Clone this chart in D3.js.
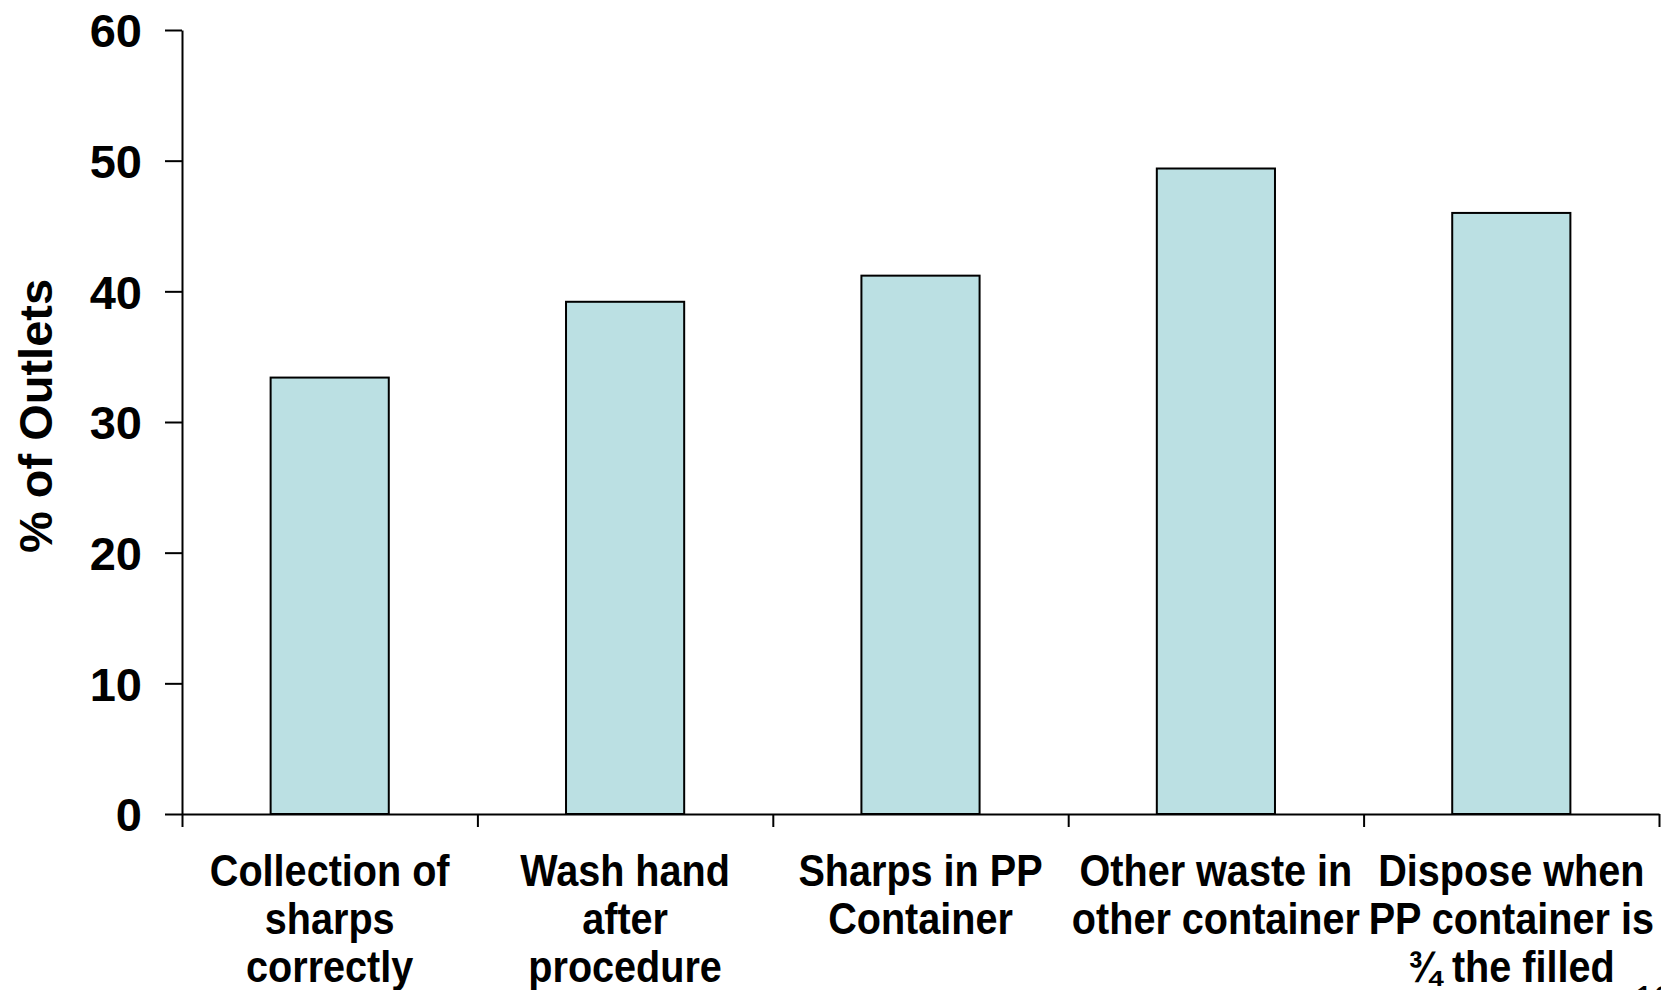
<!DOCTYPE html>
<html>
<head>
<meta charset="utf-8">
<script src="https://cdn.jsdelivr.net/npm/d3@7"></script>
<style>
  body { margin: 0; background: #fff; overflow: hidden; }
  text { font-family: "Liberation Sans", Arial, sans-serif; font-weight: bold; fill: #000; }
  .axis path, .axis line { stroke: #000; stroke-width: 2; }
  .bar { fill: #bbe0e3; stroke: #000; stroke-width: 2; }
</style>
</head>
<body>
<div class="container"></div>
<script>
var categories = [
  ["Collection of", "sharps", "correctly"],
  ["Wash hand", "after", "procedure"],
  ["Sharps in PP", "Container"],
  ["Other waste in", "other container"],
  ["Dispose when", "PP container is", "\u00be the filled"]
];
var values = [33.4, 39.2, 41.2, 49.4, 46.0];
var yTicks = [0, 10, 20, 30, 40, 50, 60];
var yTitle = "% of Outlets";
var pageNumber = "13";

const WIDTH = 1661;
const HEIGHT = 990;
const LEFT = 182, RIGHT = 1659, TOP = 30, BOTTOM = 814;

var translate = function(x, y){
  return "translate(" + x + "," + y + ")";
};

var svg = d3.select('.container').append('svg')
  .attr('width', WIDTH)
  .attr('height', HEIGHT);

var idx = d3.range(categories.length);

var xScale = d3.scaleBand()
  .domain(idx)
  .range([LEFT, RIGHT])
  .paddingInner(0.6)
  .paddingOuter(0.3);

// boundaries between categories, for the tick marks
var edgeScale = d3.scaleLinear()
  .domain([0, categories.length])
  .range([LEFT, RIGHT]);

var yScale = d3.scaleLinear()
  .domain([0, 60])
  .range([BOTTOM, TOP]);

// bars
svg.selectAll('rect.bar').data(values)
  .enter().append('rect')
  .classed('bar', true)
  .attr('x', function(d, i){ return xScale(i); })
  .attr('width', xScale.bandwidth())
  .attr('y', function(d){ return yScale(d); })
  .attr('height', function(d){ return yScale(0) - yScale(d); });

// x axis: line + boundary ticks only
var xAxis = d3.axisBottom(edgeScale)
  .tickValues(d3.range(categories.length + 1))
  .tickSize(13)
  .tickSizeOuter(0)
  .tickFormat('');

svg.append('g')
  .classed('axis', true)
  .attr('transform', translate(0, BOTTOM))
  .call(xAxis);

// y axis
var yAxis = d3.axisLeft(yScale)
  .tickValues(yTicks)
  .tickSize(17)
  .tickSizeOuter(0)
  .tickPadding(23);

var yG = svg.append('g')
  .classed('axis', true)
  .attr('transform', translate(LEFT, 0))
  .call(yAxis);

yG.selectAll('text')
  .style('font-size', '47px')
  .style('font-family', '"Liberation Sans", Arial, sans-serif')
  .style('font-weight', 'bold')
  .attr('dy', '0.36em');

// y title
svg.append('text')
  .attr('transform', translate(52, 416) + ' rotate(-90)')
  .attr('text-anchor', 'middle')
  .style('font-size', '47px')
  .text(yTitle);

// category labels
var lineGap = 48;
var labels = svg.selectAll('g.cat').data(categories)
  .enter().append('g')
  .classed('cat', true)
  .attr('transform', function(d, i){
    return translate(xScale(i) + xScale.bandwidth() / 2, 886) + ' scale(0.9,1)';
  });

labels.selectAll('text').data(function(d){ return d; })
  .enter().append('text')
  .attr('text-anchor', 'middle')
  .attr('y', function(d, j){ return j * lineGap; })
  .style('font-size', '44px')
  .text(function(d){ return d; });

// slide number, cut off at the bottom edge
svg.append('text')
  .attr('x', 1634)
  .attr('y', 1012)
  .style('font-size', '36px')
  .style('font-weight', 'normal')
  .text(pageNumber);
</script>
</body>
</html>
